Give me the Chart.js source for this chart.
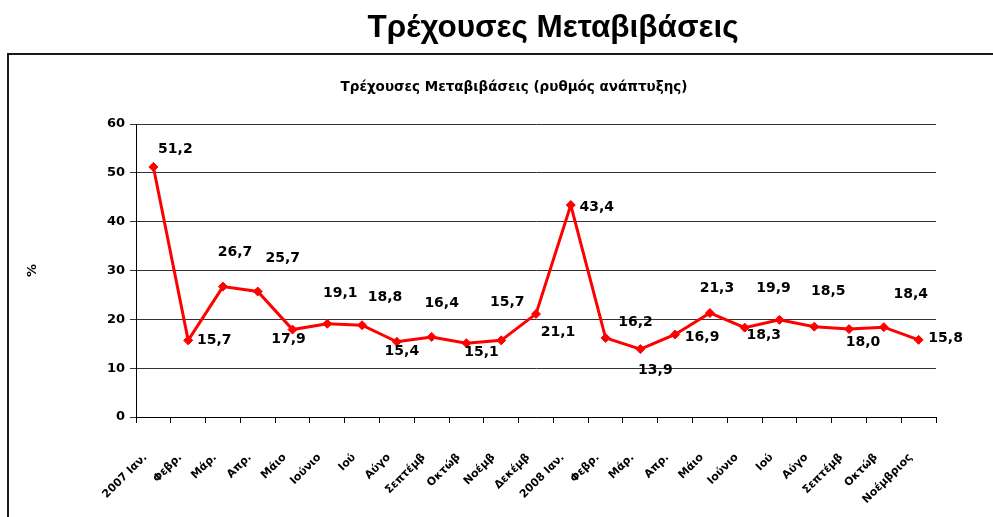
<!DOCTYPE html>
<html>
<head>
<meta charset="utf-8">
<script src="https://cdn.jsdelivr.net/npm/chart.js@4.4.1/dist/chart.umd.min.js"></script>
<style>
  html, body { margin: 0; padding: 0; background: #fff; }
  #wrap { width: 993px; height: 517px; position: relative; }
</style>
</head>
<body>
<div id="wrap"><canvas id="c" width="993" height="517"></canvas></div>
<script>
// ---- data ----
const mainTitle = 'Τρέχουσες Μεταβιβάσεις';
const chartTitle = 'Τρέχουσες Μεταβιβάσεις (ρυθμός ανάπτυξης)';
const yAxisTitle = '%';
const categories = [
  '2007 Ιαν.', 'Φεβρ.', 'Μάρ.', 'Απρ.', 'Μάιο', 'Ιούνιο', 'Ιού', 'Αύγο',
  'Σεπτέμβ', 'Οκτώβ', 'Νοέμβ', 'Δεκέμβ',
  '2008 Ιαν.', 'Φεβρ.', 'Μάρ.', 'Απρ.', 'Μάιο', 'Ιούνιο', 'Ιού', 'Αύγο',
  'Σεπτέμβ', 'Οκτώβ', 'Νοέμβριος'
];
const growthRate = [
  51.2, 15.7, 26.7, 25.7, 17.9, 19.1, 18.8, 15.4, 16.4, 15.1, 15.7, 21.1,
  43.4, 16.2, 13.9, 16.9, 21.3, 18.3, 19.9, 18.5, 18.0, 18.4, 15.8
];
const yTicks = [0, 10, 20, 30, 40, 50, 60];

// ---- label placement (style, pixel offsets from each point) ----
const labelOffsets = [
  [22, -18], [26, 0], [12, -34], [25, -33], [-4, 10], [13, -30], [23, -28], [5, 10],
  [10, -34], [15, 9], [6, -38], [22, 18], [26, 2], [30, -16], [15, 21], [27, 3],
  [7, -25], [19, 8], [-6, -31], [14, -35], [14, 13], [27, -33], [27, -1]
];

const fmt = v => v.toFixed(1).replace('.', ',');

const framePlugin = {
  id: 'frame',
  beforeDraw(chart) {
    const ctx = chart.ctx;
    ctx.save();
    ctx.fillStyle = '#fff';
    ctx.fillRect(0, 0, chart.width, chart.height);
    ctx.strokeStyle = '#1a1a1a';
    ctx.lineWidth = 2;
    ctx.beginPath();
    ctx.moveTo(8, chart.height + 2);
    ctx.lineTo(8, 54);
    ctx.lineTo(chart.width + 2, 54);
    ctx.stroke();
    ctx.fillStyle = '#000';
    ctx.textAlign = 'center';
    ctx.textBaseline = 'middle';
    ctx.font = 'bold 31.5px "Liberation Sans", sans-serif';
    ctx.fillText(mainTitle, 553, 28);
    ctx.font = 'bold 13.5px "DejaVu Sans", sans-serif';
    ctx.fillText(chartTitle, 514, 87);
    ctx.restore();
  }
};

const labelPlugin = {
  id: 'valueLabels',
  afterDatasetsDraw(chart) {
    const ctx = chart.ctx;
    const meta = chart.getDatasetMeta(0);
    ctx.save();
    ctx.fillStyle = '#000';
    ctx.font = 'bold 14px "DejaVu Sans", sans-serif';
    ctx.textAlign = 'center';
    ctx.textBaseline = 'middle';
    meta.data.forEach((pt, i) => {
      const off = labelOffsets[i] || [0, -15];
      ctx.fillText(fmt(growthRate[i]), pt.x + off[0], pt.y + off[1]);
    });
    ctx.restore();
  }
};

new Chart(document.getElementById('c'), {
  type: 'line',
  data: {
    labels: categories,
    datasets: [{
      data: growthRate,
      borderColor: '#ff0000',
      backgroundColor: '#ff0000',
      borderWidth: 3,
      pointStyle: 'rectRot',
      pointRadius: 4.5,
      pointBorderWidth: 1,
      pointBackgroundColor: '#ff0000',
      pointBorderColor: '#ff0000',
      tension: 0,
      fill: false
    }]
  },
  options: {
    responsive: false,
    animation: false,
    devicePixelRatio: 1,
    layout: { padding: { top: 124, right: 57, bottom: 0, left: 0 } },
    plugins: {
      legend: { display: false },
      tooltip: { enabled: false },
      title: { display: false }
    },
    scales: {
      x: {
        type: 'category',
        offset: true,
        grid: {
          display: true,
          drawOnChartArea: false,
          drawTicks: true,
          tickLength: 6,
          offset: true,
          color: '#000'
        },
        border: { display: true, color: '#000', width: 1 },
        ticks: {
          autoSkip: false,
          minRotation: 45,
          maxRotation: 45,
          padding: 28,
          labelOffset: -8,
          color: '#000',
          font: { family: '"DejaVu Sans", sans-serif', size: 11, weight: 'bold' }
        },
        afterFit(scale) { scale.height = 100; }
      },
      y: {
        min: 0,
        max: 60,
        afterBuildTicks(scale) { scale.ticks = yTicks.map(v => ({ value: v })); },
        grid: {
          color: '#333',
          lineWidth: 1,
          drawTicks: true,
          tickLength: 6
        },
        border: { display: true, color: '#000', width: 1 },
        ticks: {
          padding: 5,
          color: '#000',
          font: { family: '"DejaVu Sans", sans-serif', size: 13, weight: 'bold' }
        },
        title: {
          display: true,
          text: yAxisTitle,
          color: '#000',
          padding: { top: 25, bottom: 0 },
          font: { family: '"DejaVu Sans", sans-serif', size: 13, weight: 'bold' }
        },
        afterFit(scale) { scale.width = 136; }
      }
    }
  },
  plugins: [framePlugin, labelPlugin]
});
</script>
</body>
</html>
